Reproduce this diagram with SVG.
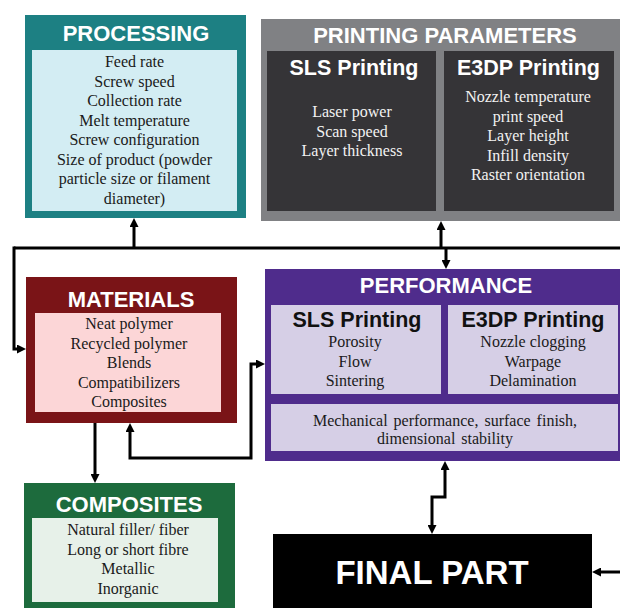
<svg xmlns="http://www.w3.org/2000/svg" width="620" height="608" viewBox="0 0 620 608">
<defs>
<marker id="ah" viewBox="0 0 9 9" markerWidth="9" markerHeight="9" refX="2" refY="4.5" orient="auto-start-reverse" markerUnits="userSpaceOnUse">
<path d="M0,0 L9,4.5 L0,9 z" fill="#000"/>
</marker>
</defs>
<style>
.t{font-family:"Liberation Sans",Arial,sans-serif;font-weight:bold;fill:#fff;text-anchor:middle}
.h{font-family:"Liberation Sans",Arial,sans-serif;font-weight:bold;text-anchor:middle;font-size:21.5px}
.b{font-family:"Liberation Serif","Times New Roman",serif;font-size:16px;text-anchor:middle}
.c{fill:none;stroke:#000;stroke-width:3}
</style>
<rect width="620" height="608" fill="#fff"/>

<g id="processing">
<rect x="25" y="15" width="221" height="203" fill="#1d8083"/>
<rect x="32" y="50" width="205" height="161" fill="#d3edf3"/>
<text class="t" x="136" y="41" font-size="22">PROCESSING</text>
<g class="b" fill="#1a1a1a">
<text x="134.5" y="67">Feed rate</text>
<text x="134.5" y="86.5">Screw speed</text>
<text x="134.5" y="106">Collection rate</text>
<text x="134.5" y="125.5">Melt temperature</text>
<text x="134.5" y="145">Screw configuration</text>
<text x="134.5" y="164.5">Size of product (powder</text>
<text x="134.5" y="184">particle size or filament</text>
<text x="134.5" y="203.5">diameter)</text>
</g>
</g>

<g id="printing">
<rect x="261" y="19" width="359" height="202" fill="#808184"/>
<rect x="267" y="51" width="169" height="160" fill="#353437"/>
<rect x="444" y="51" width="170" height="160" fill="#353437"/>
<text class="t" x="445" y="43" font-size="22">PRINTING PARAMETERS</text>
<text class="h" x="354" y="75" fill="#fff">SLS Printing</text>
<text class="h" x="528.5" y="75" fill="#fff">E3DP Printing</text>
<g class="b" fill="#f2f2f2">
<text x="352" y="117">Laser power</text>
<text x="352" y="136.5">Scan speed</text>
<text x="352" y="156">Layer thickness</text>
<text x="528" y="102">Nozzle temperature</text>
<text x="528" y="121.5">print speed</text>
<text x="528" y="141">Layer height</text>
<text x="528" y="160.5">Infill density</text>
<text x="528" y="180">Raster orientation</text>
</g>
</g>

<g id="materials">
<rect x="26" y="277" width="211" height="146" fill="#7a1417"/>
<rect x="35" y="313" width="186" height="99" fill="#fcd6d7"/>
<text class="t" x="131" y="307" font-size="22">MATERIALS</text>
<g class="b" fill="#1a1a1a">
<text x="129" y="329">Neat polymer</text>
<text x="129" y="348.5">Recycled polymer</text>
<text x="129" y="368">Blends</text>
<text x="129" y="387.5">Compatibilizers</text>
<text x="129" y="407">Composites</text>
</g>
</g>

<g id="performance">
<rect x="265" y="269" width="355" height="192" fill="#4f2c8c"/>
<rect x="271" y="305" width="170" height="89" fill="#d6cfe6"/>
<rect x="448" y="305" width="170" height="89" fill="#d6cfe6"/>
<rect x="271" y="404" width="347" height="47" fill="#d6cfe6"/>
<text class="t" x="446" y="293" font-size="22">PERFORMANCE</text>
<text class="h" x="357" y="327" fill="#111">SLS Printing</text>
<text class="h" x="533" y="327" fill="#111">E3DP Printing</text>
<g class="b" fill="#1a1a1a">
<text x="355" y="347">Porosity</text>
<text x="355" y="366.5">Flow</text>
<text x="355" y="386">Sintering</text>
<text x="533" y="347">Nozzle clogging</text>
<text x="533" y="366.5">Warpage</text>
<text x="533" y="386">Delamination</text>
<text x="445" y="426" word-spacing="2">Mechanical performance, surface finish,</text>
<text x="445" y="444" word-spacing="2">dimensional stability</text>
</g>
</g>

<g id="composites">
<rect x="24" y="483" width="211" height="125" fill="#1d6b3d"/>
<rect x="32" y="518" width="186" height="84" fill="#e7f1e9"/>
<text class="t" x="129" y="512" font-size="22">COMPOSITES</text>
<g class="b" fill="#1a1a1a">
<text x="128" y="535">Natural filler/ fiber</text>
<text x="128" y="554.5">Long or short fibre</text>
<text x="128" y="574">Metallic</text>
<text x="128" y="593.5">Inorganic</text>
</g>
</g>

<g id="final-part">
<rect x="273" y="534" width="319" height="80" fill="#000"/>
<text class="t" x="432" y="584" font-size="33">FINAL PART</text>
</g>

<g id="connectors">
<path class="c" d="M14,248 H620"/>
<path class="c" d="M14,246.5 V349 H19" marker-end="url(#ah)"/>
<path class="c" d="M134,248 V225" marker-end="url(#ah)"/>
<path class="c" d="M441,248 V228" marker-end="url(#ah)"/>
<path class="c" d="M446,248 V262" marker-end="url(#ah)"/>
<path class="c" d="M95,423 V476" marker-end="url(#ah)"/>
<path class="c" d="M258,364 H251 V458 H130 V430" marker-start="url(#ah)" marker-end="url(#ah)"/>
<path class="c" d="M445,468 V497 H432 V527" marker-start="url(#ah)" marker-end="url(#ah)"/>
<path class="c" d="M620,572 H599" marker-end="url(#ah)"/>
</g>
</svg>
